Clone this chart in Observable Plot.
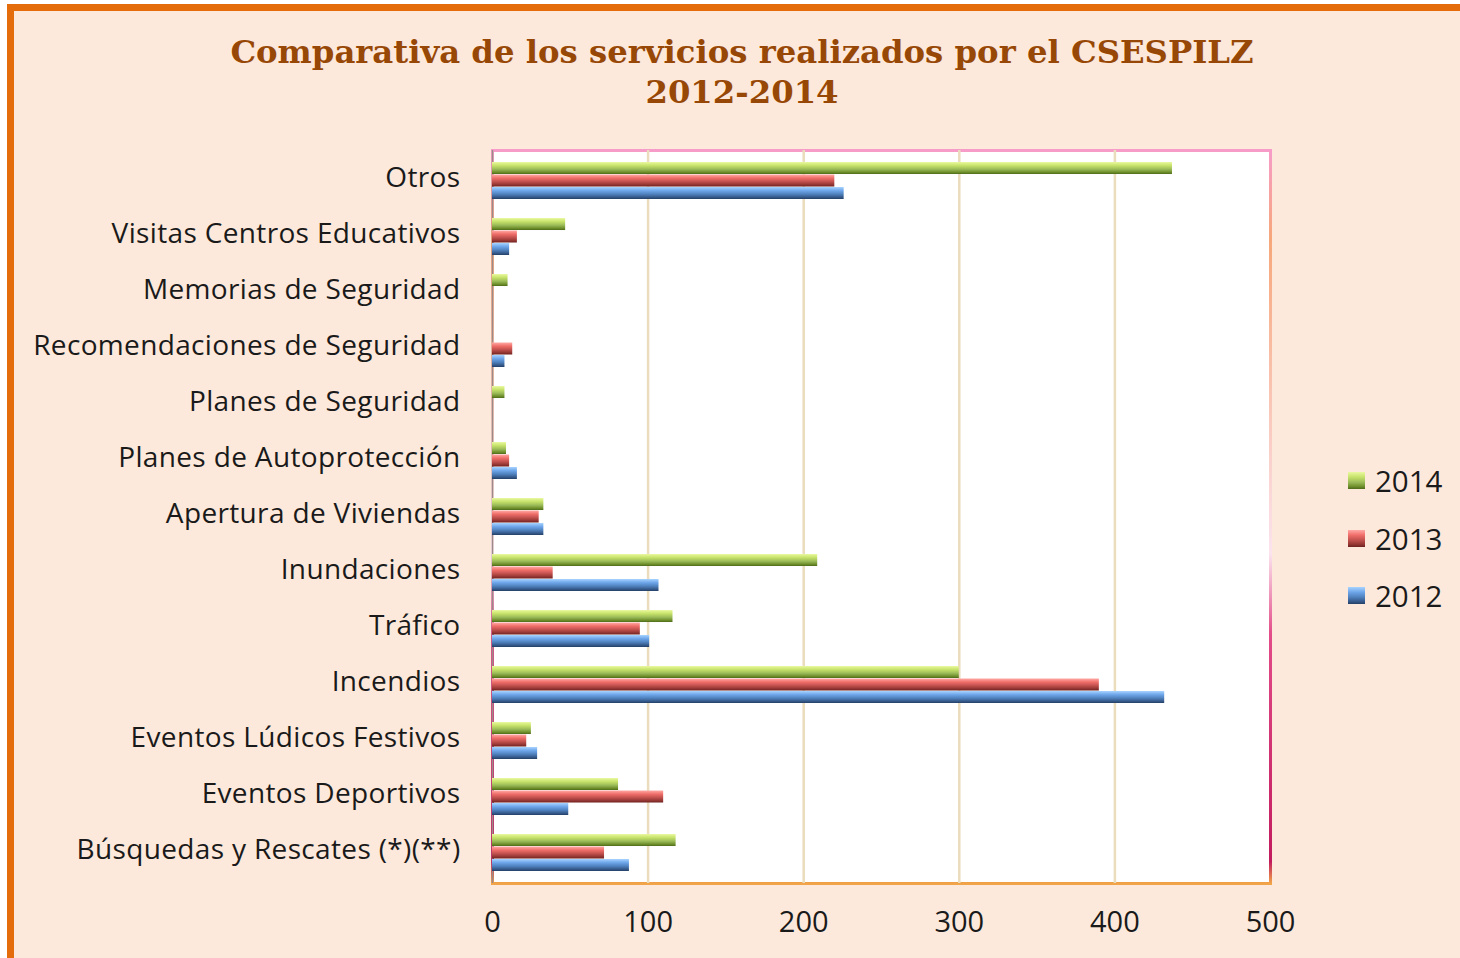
<!DOCTYPE html>
<html>
<head>
<meta charset="utf-8">
<script src="https://cdn.jsdelivr.net/npm/d3@7"></script>
<script src="https://cdn.jsdelivr.net/npm/@observablehq/plot@0.6"></script>
<style>
  html, body { margin: 0; padding: 0; background: #ffffff; }
  body { width: 1460px; height: 958px; position: relative; overflow: hidden; }
  #frame { position: absolute; left: 7px; top: 4px; width: 1470px; height: 970px;
           background: #FDE9DB; border-left: 7px solid #E46C0A; border-top: 7px solid #E46C0A; box-sizing: border-box; }
  #title { position: absolute; left: 0; top: 32px; width: 1484px; text-align: center;
           font-family: "DejaVu Serif", serif; font-weight: bold; font-size: 32.3px; line-height: 40px; color: #984806; }
  #chart { position: absolute; left: 0; top: 0; }
  #legend { position: absolute; left: 1348px; top: 452px; font-family: "Open Sans", sans-serif; font-size: 29.5px; color: #1a1a1a; }
  .item { display: flex; align-items: center; height: 57.5px; }
  .sw { width: 17px; height: 17px; margin-right: 10px; }
  #chart svg g[aria-label="y-axis tick label"] text { font-size: 28px; letter-spacing: 0.35px; }
  #chart svg g[aria-label="x-axis tick label"] text { font-size: 29px; }
</style>
</head>
<body>
<div id="frame"></div>
<div id="title">Comparativa de los servicios realizados por el CSESPILZ<br>2012-2014</div>
<div id="chart"></div>
<div id="legend"></div>
<script>
const categories = ["Otros", "Visitas Centros Educativos", "Memorias de Seguridad", "Recomendaciones de Seguridad",
  "Planes de Seguridad", "Planes de Autoprotección", "Apertura de Viviendas", "Inundaciones", "Tráfico",
  "Incendios", "Eventos Lúdicos Festivos", "Eventos Deportivos", "Búsquedas y Rescates (*)(**)"];
const years = ["2014", "2013", "2012"];
const v2014 = [437, 47, 10, 0, 8, 9, 33, 209, 116, 300, 25, 81, 118];
const v2013 = [220, 16, 0, 13, 0, 11, 30, 39, 95, 390, 22, 110, 72];
const v2012 = [226, 11, 0, 8, 0, 16, 33, 107, 101, 432, 29, 49, 88];
const xTicks = [0, 100, 200, 300, 400, 500];
const gridTicks = [100, 200, 300, 400];

const seriesValues = [v2014, v2013, v2012];
const gradIds = {"2014": "g2014", "2013": "g2013", "2012": "g2012"};

const W = 1460, H = 958;
const mL = 492, mR = 190, mT = 150, mB = 75;
const pInner = 0.335, pOuter = 0.17;
const innerH = H - mT - mB;
const step = innerH / (categories.length - pInner + 2 * pOuter);
const bw = step * (1 - pInner);

const rows = years.map((yr, k) => categories.map((c, j) => ({category: c, year: yr, value: seriesValues[k][j]})).filter(d => d.value > 0));

const barMarks = years.map((yr, k) => Plot.barX(rows[k], {
  x: "value", y: "category",
  fill: `url(#${gradIds[yr]})`,
  insetTop: k * bw / 3, insetBottom: (2 - k) * bw / 3,
  style: "filter: drop-shadow(2px 4px 3px rgba(0,0,0,0.22));"
}));

const plot = Plot.plot({
  width: W, height: H,
  marginLeft: mL, marginRight: mR, marginTop: mT, marginBottom: mB,
  style: {background: "transparent", fontFamily: "'Open Sans', sans-serif", fontSize: "28px", color: "#1a1a1a", overflow: "visible"},
  x: {domain: [0, 500], label: null},
  y: {domain: categories, paddingInner: pInner, paddingOuter: pOuter, label: null},
  marks: [
    Plot.frame({fill: "white", stroke: "url(#gframe)", strokeWidth: 3}),
    Plot.ruleX(gridTicks, {stroke: "#EADCBD", strokeWidth: 2.5}),
    Plot.ruleX([0], {stroke: "#9a8a88", strokeWidth: 1.5}),
    ...barMarks,
    Plot.axisX(xTicks, {tickSize: 0, tickPadding: 28, label: null}),
    Plot.axisY({tickSize: 0, tickPadding: 32, dy: -3, label: null})
  ]
});

const ns = "http://www.w3.org/2000/svg";
const defs = document.createElementNS(ns, "defs");
defs.innerHTML = `
  <linearGradient id="g2014" x1="0" y1="0" x2="0" y2="1">
    <stop offset="0" stop-color="#EAF8A0"/><stop offset="0.3" stop-color="#C6E26A"/>
    <stop offset="0.6" stop-color="#9BBB59"/><stop offset="0.85" stop-color="#6F8F2C"/><stop offset="1" stop-color="#4D6A1A"/>
  </linearGradient>
  <linearGradient id="g2013" x1="0" y1="0" x2="0" y2="1">
    <stop offset="0" stop-color="#FFA9A5"/><stop offset="0.3" stop-color="#F06E6A"/>
    <stop offset="0.6" stop-color="#C0504D"/><stop offset="0.85" stop-color="#923532"/><stop offset="1" stop-color="#6E2220"/>
  </linearGradient>
  <linearGradient id="g2012" x1="0" y1="0" x2="0" y2="1">
    <stop offset="0" stop-color="#A8D4FF"/><stop offset="0.3" stop-color="#6EA6EA"/>
    <stop offset="0.6" stop-color="#4F81BD"/><stop offset="0.85" stop-color="#35598A"/><stop offset="1" stop-color="#243F66"/>
  </linearGradient>
  <linearGradient id="gframe" x1="0" y1="0" x2="0" y2="1">
    <stop offset="0" stop-color="#F79CC8"/><stop offset="0.12" stop-color="#F7A77A"/>
    <stop offset="0.55" stop-color="#FBE3EE"/><stop offset="0.66" stop-color="#E24C88"/>
    <stop offset="0.97" stop-color="#C21C5E"/><stop offset="1" stop-color="#F2A548"/>
  </linearGradient>`;
plot.insertBefore(defs, plot.firstChild);
document.getElementById("chart").appendChild(plot);

const legend = document.getElementById("legend");
years.forEach(yr => {
  const item = document.createElement("div");
  item.className = "item";
  item.innerHTML = `<svg class="sw" viewBox="0 0 17 17"><rect width="17" height="17" fill="url(#${gradIds[yr]})"/></svg><span>${yr}</span>`;
  legend.appendChild(item);
});
</script>
</body>
</html>
